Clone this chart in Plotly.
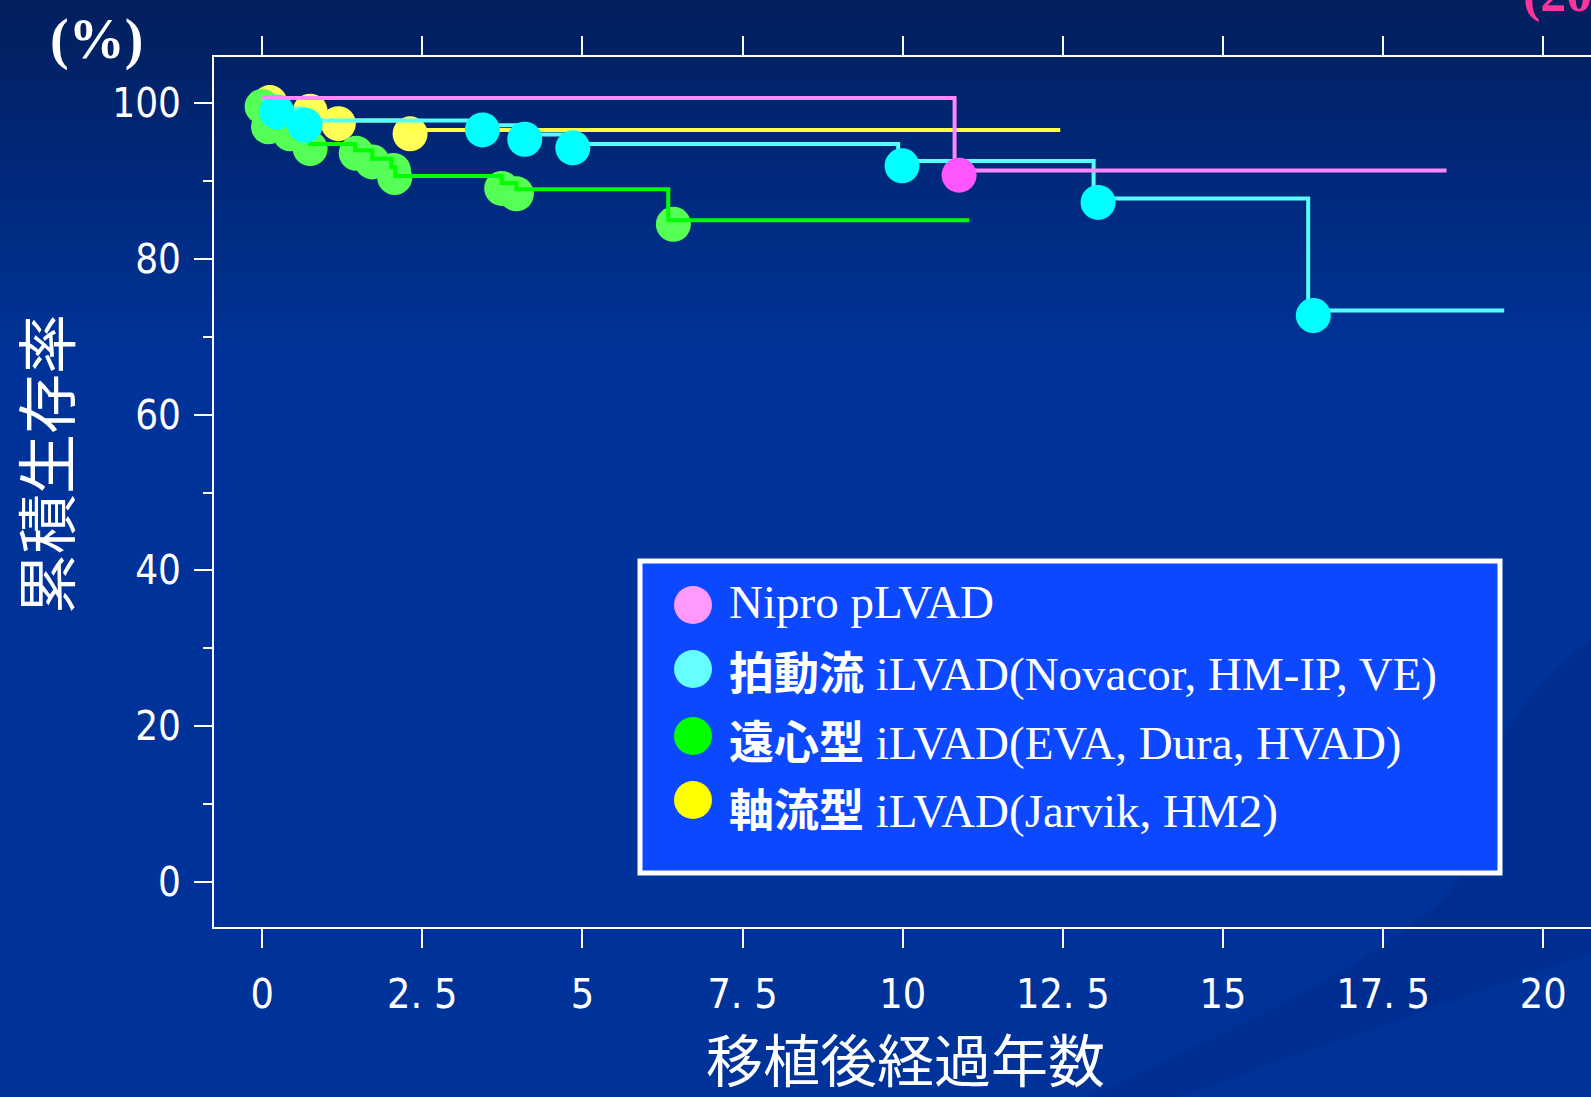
import plotly.graph_objects as go

# ---------------- data ----------------
series_names = ["Nipro pLVAD", "拍動流 iLVAD(Novacor, HM-IP, VE)",
                "遠心型 iLVAD(EVA, Dura, HVAD)", "軸流型 iLVAD(Jarvik, HM2)"]
legend_jp = ["", "拍動流", "遠心型", "軸流型"]
legend_en = ["Nipro pLVAD", "iLVAD(Novacor, HM-IP, VE)",
             "iLVAD(EVA, Dura, HVAD)", "iLVAD(Jarvik, HM2)"]
x_title = "移植後経過年数"
y_title = "累積生存率"

# step curves: time (years) and cumulative survival (%) after each step
nipro_t = [0.0, 10.81, 18.49]
nipro_s = [100.6, 91.3, 91.3]
nipro_ev_t = [10.88]
nipro_ev_s = [90.7]

pulsatile_t = [0.0, 0.22, 0.65, 3.44, 4.10, 4.85, 9.93, 12.98, 16.33, 19.39]
pulsatile_s = [100.0, 99.2, 97.7, 97.1, 95.9, 94.7, 92.5, 87.7, 73.35, 73.35]
pulsatile_ev_t = [0.23, 0.67, 3.44, 4.10, 4.85, 9.99, 13.05, 16.41]
pulsatile_ev_s = [98.8, 97.1, 96.5, 95.3, 94.2, 91.9, 87.2, 72.7]

centrifugal_t = [0.0, 0.02, 0.12, 0.45, 0.75, 1.45, 1.72, 2.02, 2.08, 3.74, 3.97, 6.34, 11.04]
centrifugal_s = [100.0, 99.3, 97.6, 96.5, 94.7, 93.9, 92.8, 91.7, 90.6, 89.7, 88.9, 84.9, 84.9]
centrifugal_ev_t = [0.0, 0.10, 0.44, 0.75, 1.47, 1.72, 2.05, 2.07, 3.74, 3.97, 6.42]
centrifugal_ev_s = [99.5, 96.9, 96.0, 94.1, 93.5, 92.4, 91.3, 90.4, 89.0, 88.3, 84.4]

axial_t = [0.0, 0.10, 0.75, 1.19, 2.30, 12.46]
axial_s = [100.0, 99.2, 98.6, 97.7, 96.5, 96.5]
axial_ev_t = [0.12, 0.75, 1.19, 2.31]
axial_ev_s = [100.0, 98.9, 97.3, 96.0]

x_tickvals = [0, 2.5, 5, 7.5, 10, 12.5, 15, 17.5, 20]
x_ticktext = ["0", "2. 5", "5", "7. 5", "10", "12. 5", "15", "17. 5", "20"]
y_tickvals = [0, 20, 40, 60, 80, 100]
y_minor_tickvals = [10, 30, 50, 70, 90]

# ---------------- styling ----------------
W, H = 1591, 1097
L, R, T, B = 214, 1591, 57, 927
line_cols = {"nipro": "#ff88ff", "puls": "#55ffff", "cent": "#00ff00", "axial": "#ffff44"}
mark_cols = {"nipro": "#ff55ff", "puls": "#00ffff", "cent": "#55ff55", "axial": "#ffff55"}
legend_cols = ["#ff99ff", "#66ffff", "#00ff00", "#ffff00"]
NARROW = "Liberation Sans Narrow, Arial Narrow, DejaVu Sans Condensed, Liberation Sans, sans-serif"
CJK = "Noto Sans CJK JP, Noto Sans CJK SC, sans-serif"
SERIF = "Liberation Serif, Times New Roman, serif"
MS = 35
LW = 4


def px(x):
    return (x - L) / (R - L)


def py(y):
    return (B - y) / (B - T)


def step_line(t, s, col, name):
    return go.Scatter(x=t, y=s, mode="lines", line=dict(color=col, width=LW, shape="hv"),
                      name=name, showlegend=False, hoverinfo="skip")


def events(t, s, col, name):
    return go.Scatter(x=t, y=s, mode="markers", name=name, showlegend=False,
                      marker=dict(color=col, size=MS, line=dict(width=0)))


fig = go.Figure()
fig.add_trace(events(axial_ev_t, axial_ev_s, mark_cols["axial"], series_names[3]))
fig.add_trace(events(centrifugal_ev_t, centrifugal_ev_s, mark_cols["cent"], series_names[2]))
fig.add_trace(step_line(axial_t, axial_s, line_cols["axial"], series_names[3]))
fig.add_trace(step_line(centrifugal_t, centrifugal_s, line_cols["cent"], series_names[2]))
fig.add_trace(step_line(pulsatile_t, pulsatile_s, line_cols["puls"], series_names[1]))
fig.add_trace(events(pulsatile_ev_t, pulsatile_ev_s, mark_cols["puls"], series_names[1]))
fig.add_trace(step_line(nipro_t, nipro_s, line_cols["nipro"], series_names[0]))
fig.add_trace(events(nipro_ev_t, nipro_ev_s, mark_cols["nipro"], series_names[0]))

shapes = []
# vertical background gradient
c0 = (2, 31, 94)
c1 = (0, 51, 153)
N = 60
top_h = 360
for i in range(N):
    f = i / (N - 1)
    col = tuple(round(c0[k] + (c1[k] - c0[k]) * f) for k in range(3))
    y0 = top_h * i / N
    y1 = top_h * (i + 1) / N + 1
    shapes.append(dict(type="rect", xref="paper", yref="paper", layer="below",
                       x0=px(0), x1=px(W), y0=py(y1), y1=py(y0),
                       fillcolor="rgb(%d,%d,%d)" % col, line=dict(width=0)))
# faint decorative swoosh bottom-right
sw = "M {a},{b} Q {c},{d} {e},{f} Q {g},{h} {i},{j} L {k},{l} L {m},{n} Z".format(
    a=px(1591), b=py(640), c=px(1480), d=py(720), e=px(1462), f=py(870),
    g=px(1440), h=py(940), i=px(1087), j=py(1097), k=px(1176), l=py(1097),
    m=px(1591), n=py(953))
shapes.append(dict(type="path", xref="paper", yref="paper", layer="below", path=sw,
                   fillcolor="rgba(0,25,100,0.16)", line=dict(width=0)))

# legend box
shapes.append(dict(type="rect", xref="paper", yref="paper", layer="above",
                   x0=px(640), x1=px(1500), y0=py(873), y1=py(561),
                   fillcolor="#0c48ff", line=dict(color="white", width=5)))
circle_cy = [605, 669, 736, 800]
text_cy = [602, 670, 739, 807]
annotations = []
for i in range(4):
    r = 19
    shapes.append(dict(type="circle", xref="paper", yref="paper", layer="above",
                       x0=px(693 - r), x1=px(693 + r), y0=py(circle_cy[i] + r), y1=py(circle_cy[i] - r),
                       fillcolor=legend_cols[i], line=dict(width=0)))
    if legend_jp[i]:
        txt = ('<span style="font-family:%s;font-size:45px;font-weight:bold">%s</span> %s'
               % ("Noto Sans CJK JP", legend_jp[i], legend_en[i]))
    else:
        txt = legend_en[i]
    annotations.append(dict(xref="paper", yref="paper", x=px(727), y=py(text_cy[i]),
                            xanchor="left", yanchor="middle", showarrow=False, text=txt,
                            font=dict(family=SERIF, size=47, color="white")))

annotations.append(dict(xref="paper", yref="paper", x=px(43), y=py(464), textangle=-90,
                        xanchor="center", yanchor="middle", showarrow=False, text=y_title,
                        font=dict(family=CJK, size=60, color="white")))
annotations.append(dict(xref="paper", yref="paper", x=px(905), y=py(1057),
                        xanchor="center", yanchor="middle", showarrow=False, text=x_title,
                        font=dict(family=CJK, size=57, color="white")))
annotations.append(dict(xref="paper", yref="paper", x=px(96), y=py(40),
                        xanchor="center", yanchor="middle", showarrow=False, text="<b>(%)</b>",
                        font=dict(family=SERIF, size=56, color="white")))
annotations.append(dict(xref="paper", yref="paper", x=px(1521), y=py(-6),
                        xanchor="left", yanchor="middle", showarrow=False, text="<b>(20</b>",
                        font=dict(family=SERIF, size=52, color="#ff3399")))

fig.update_layout(
    width=W, height=H,
    margin=dict(l=L, r=W - R, t=T, b=H - B, pad=0),
    paper_bgcolor="#003399", plot_bgcolor="rgba(0,0,0,0)",
    shapes=shapes, annotations=annotations, showlegend=False,
    xaxis=dict(range=[-0.751, 20.745], tickvals=x_tickvals, ticktext=x_ticktext,
               showline=True, linecolor="white", linewidth=2, mirror="ticks",
               ticks="outside", ticklen=19, tickwidth=2, tickcolor="white",
               showgrid=False, zeroline=False, ticklabelstandoff=11,
               tickfont=dict(family=NARROW, size=41, color="white")),
    yaxis=dict(range=[-5.72, 105.85], tickvals=y_tickvals,
               showline=True, linecolor="white", linewidth=2, mirror=False,
               ticks="outside", ticklen=18, tickwidth=2, tickcolor="white",
               minor=dict(tickvals=y_minor_tickvals, ticks="outside", ticklen=9,
                          tickwidth=2, tickcolor="white"),
               showgrid=False, zeroline=False, ticklabelstandoff=5,
               tickfont=dict(family=NARROW, size=40, color="white")),
)

fig.write_html("out.html", config={"displayModeBar": False},
               post_script="document.body.style.margin='0';document.body.style.overflow='hidden';")
